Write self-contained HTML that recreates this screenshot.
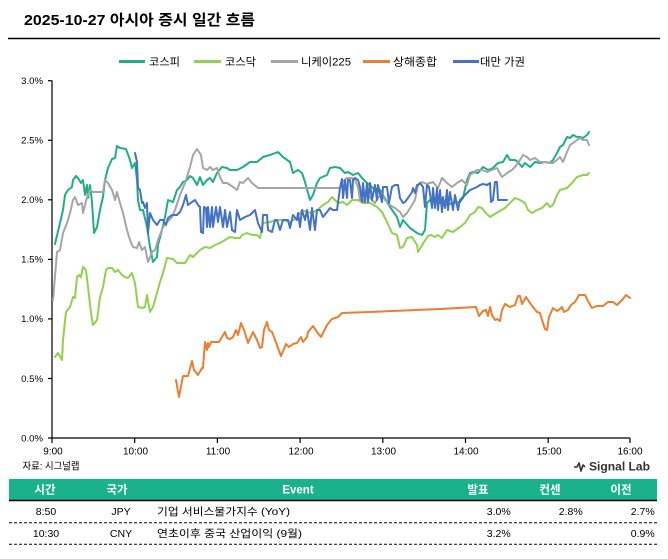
<!DOCTYPE html>
<html>
<head>
<meta charset="utf-8">
<style>
html,body{margin:0;padding:0;background:#fff;}
svg{display:block;}
text{font-family:"Liberation Sans","Noto Sans CJK KR",sans-serif;}
</style>
</head>
<body>
<svg width="668" height="559" viewBox="0 0 668 559" xmlns="http://www.w3.org/2000/svg">
<rect width="668" height="559" fill="#fff"/>
<!-- Title -->
<text x="24" y="25" font-size="15" font-weight="bold" fill="#000" textLength="231" lengthAdjust="spacingAndGlyphs">2025-10-27 아시아 증시 일간 흐름</text>
<line x1="8" y1="38.5" x2="660" y2="38.5" stroke="#000" stroke-width="1.5"/>

<!-- Legend -->
<g font-size="11" fill="#000">
<line x1="119" y1="61.5" x2="145" y2="61.5" stroke="#1fae87" stroke-width="3"/>
<text x="149" y="65.5" textLength="31" lengthAdjust="spacingAndGlyphs">코스피</text>
<line x1="194" y1="61.5" x2="221" y2="61.5" stroke="#92d050" stroke-width="3"/>
<text x="225" y="65.5" textLength="31" lengthAdjust="spacingAndGlyphs">코스닥</text>
<line x1="271" y1="61.5" x2="298" y2="61.5" stroke="#a5a5a5" stroke-width="3"/>
<text x="301" y="65.5" textLength="50" lengthAdjust="spacingAndGlyphs">니케이225</text>
<line x1="363" y1="61.5" x2="390" y2="61.5" stroke="#ed7d31" stroke-width="3"/>
<text x="393" y="65.5" textLength="44" lengthAdjust="spacingAndGlyphs">상해종합</text>
<line x1="453" y1="61.5" x2="479" y2="61.5" stroke="#4472c4" stroke-width="3"/>
<text x="480" y="65.5" textLength="45" lengthAdjust="spacingAndGlyphs">대만 가권</text>
</g>

<!-- Axes -->
<g stroke="#000" stroke-width="1.2">
<line x1="52" y1="80.5" x2="52" y2="438"/>
<line x1="52" y1="438" x2="630" y2="438"/>
<line x1="48" y1="80.7" x2="52" y2="80.7"/>
<line x1="48" y1="140.3" x2="52" y2="140.3"/>
<line x1="48" y1="199.8" x2="52" y2="199.8"/>
<line x1="48" y1="259.4" x2="52" y2="259.4"/>
<line x1="48" y1="318.9" x2="52" y2="318.9"/>
<line x1="48" y1="378.5" x2="52" y2="378.5"/>
<line x1="48" y1="438" x2="52" y2="438"/>
<line x1="52" y1="438" x2="52" y2="443"/>
<line x1="134.7" y1="438" x2="134.7" y2="443"/>
<line x1="217.4" y1="438" x2="217.4" y2="443"/>
<line x1="300.1" y1="438" x2="300.1" y2="443"/>
<line x1="382.8" y1="438" x2="382.8" y2="443"/>
<line x1="465.5" y1="438" x2="465.5" y2="443"/>
<line x1="548.2" y1="438" x2="548.2" y2="443"/>
<line x1="630" y1="438" x2="630" y2="443"/>
</g>
<g font-size="9.6" fill="#000" text-anchor="end">
<text x="43" y="84">3.0%</text>
<text x="43" y="143.6">2.5%</text>
<text x="43" y="203.1">2.0%</text>
<text x="43" y="262.7">1.5%</text>
<text x="43" y="322.2">1.0%</text>
<text x="43" y="381.8">0.5%</text>
<text x="43" y="441.3">0.0%</text>
</g>
<g font-size="10" fill="#000" text-anchor="middle">
<text x="53" y="454.5">9:00</text>
<text x="135.5" y="454.5">10:00</text>
<text x="218" y="454.5">11:00</text>
<text x="301" y="454.5">12:00</text>
<text x="383.5" y="454.5">13:00</text>
<text x="466" y="454.5">14:00</text>
<text x="549" y="454.5">15:00</text>
<text x="630" y="454.5">16:00</text>
</g>

<!-- Series -->
<g fill="none" stroke-width="2" stroke-linejoin="round" stroke-linecap="round">
<polyline stroke="#1fae87" points="55,244 60,223 63,210 65,195 68,190 72,187 73,180 76,176 78,178 81,183 83,180 85,195 87,185 88,198 90,185 92,202 94,233 97,227 100,210 103,197 105,180 108,168 112,159 115,158 117,146 120,148 126,149 130,160 132,168 135,163 137,180 138,200 140,210 143,210 147,227 150,247 153,262 157,257 158,245 162,230 165,217 168,200 173,202 177,190 180,187 183,182 187,180 190,176 193,178 197,185 200,177 203,185 207,180 210,178 213,182 217,173 222,167 227,168 230,170 237,170 243,167 250,162 257,162 263,157 270,155 278,152 283,157 290,162 293,173 298,170 302,173 305,182 310,200 313,195 317,183 320,178 327,175 330,168 335,167 340,168 345,173 348,172 353,175 358,173 362,178 367,183 373,188 380,190 383,195 390,207 397,217 400,227 403,220 410,228 417,233 422,235 425,230 427,203 430,200 433,202 440,203 447,205 453,203 460,202 463,198 467,180 470,173 473,172 478,173 483,167 488,170 493,168 498,163 503,162 507,155 510,160 515,160 518,162 522,167 525,163 530,167 535,162 540,163 545,162 550,163 553,160 557,153 560,147 563,145 567,137 570,138 573,135 577,137 580,137 583,138 587,135 589,132"/>
<polyline stroke="#92d050" points="55,357 58,353 62,360 63,340 66,312 70,307 73,297 75,298 77,277 79,275 81,277 83,267 86,270 88,287 91,313 93,325 97,320 100,297 103,287 106,270 108,268 112,268 115,272 118,270 122,275 125,277 128,278 132,273 135,283 138,307 142,308 145,307 147,295 150,312 153,307 157,293 160,282 163,273 167,258 173,259 177,263 182,263 185,263 190,255 193,257 197,253 200,250 205,247 210,248 215,245 220,243 225,240 230,237 235,238 240,238 242,235 247,233 252,235 257,235 260,238 263,223 270,222 277,220 283,220 290,222 297,218 302,210 307,212 312,213 317,210 323,205 328,202 332,197 335,200 338,203 343,202 347,205 352,200 358,200 363,203 370,203 377,207 382,212 387,222 392,233 397,235 400,248 403,247 407,238 412,237 417,245 418,252 421,247 424,242 428,236 431,235 435,237 438,235 442,238 447,230 453,232 460,227 465,223 470,215 475,212 478,207 482,208 485,212 490,217 493,215 498,212 505,208 510,203 515,198 520,200 525,203 528,210 532,213 537,210 542,208 547,203 550,207 553,205 557,195 560,190 567,188 572,183 577,177 583,175 587,175 589,173"/>
<polyline stroke="#a5a5a5" points="53,300 57,252 60,250 63,233 67,223 70,213 73,200 75,197 78,205 82,203 83,213 87,197 90,190 93,192 97,192 103,192 105,180 108,183 112,190 115,200 117,192 120,203 123,213 127,230 130,240 133,247 137,248 139,242 142,250 145,247 148,262 152,252 155,250 158,240 163,227 167,222 172,217 175,210 180,195 185,183 190,167 193,155 197,149 201,155 203,168 207,170 210,167 213,170 217,168 220,177 223,183 227,183 230,185 233,187 237,190 240,182 243,183 248,178 252,183 258,188 340,188 342,182 347,178 352,178 355,180 358,187 360,200 363,202 367,193 372,200 375,203 378,198 382,193 385,200 390,205 395,208 400,212 403,217 407,213 412,205 415,200 418,185 422,182 427,184 433,182 438,188 442,178 447,183 452,187 457,183 462,180 467,185 470,175 477,170 482,170 487,172 492,170 497,168 502,177 507,173 512,170 515,167 520,160 523,155 527,157 530,160 535,158 540,162 545,162 550,163 553,163 557,160 560,157 563,162 567,152 570,145 573,143 577,140 580,138 583,140 587,140 589,145"/>
<polyline stroke="#ed7d31" points="176,380 179,397 183,376 188,376 192,361 194,370 198,375 202,368 203,368 205,342 207,350 208,343 209,347 211,342 219,342 225,332 227,338 230,339 233,337 236,330 238,335 241,323 244,330 248,343 253,332 257,340 260,348 262,347 264,330 267,322 269,330 272,332 274,337 278,348 281,356 286,344 289,347 293,344 297,343 301,337 303,342 307,337 308,332 313,326 317,332 321,337 327,325 332,319 338,317 342,313 370,312 440,309 476,307 479,316 483,311 486,310 488,316 490,307 492,315 495,320 497,319 500,321 502,310 505,304 510,307 515,305 518,296 520,296 522,304 526,297 530,303 533,307 537,312 540,313 543,323 545,329 547,330 549,317 553,308 557,311 560,309 562,307 564,312 568,310 571,305 575,302 579,295 585,295 588,301 592,308 597,306 603,306 608,302 613,302 617,305 620,302 623,299 626,295 630,298"/>
<polyline stroke="#4472c4" points="135,153 137,162 138,188 140,190 142,203 143,202 145,208 147,203 148,233 150,213 153,220 157,225 160,220 163,220 166,225 168,218 172,215 177,215 180,212 183,205 186,195 188,205 192,202 195,200 198,205 200,207 201,232 203,233 204,207 206,208 207,227 208,207 210,227 212,207 213,227 216,207 218,222 220,207 223,227 225,210 227,227 230,212 232,230 235,232 237,210 240,220 245,217 250,215 255,210 258,223 262,232 263,215 267,215 268,230 272,232 275,220 277,220 280,230 283,220 288,220 290,228 293,215 297,220 298,213 300,227 302,210 305,220 307,210 310,230 312,208 315,230 317,210 320,210 323,217 327,212 330,208 333,210 337,210 340,188 342,179 343,198 345,180 347,198 348,180 350,180 352,198 353,180 355,178 358,180 360,187 362,202 363,183 365,202 367,183 368,202 370,183 372,200 375,185 377,200 378,185 382,202 383,187 387,187 389,203 392,187 395,185 398,185 400,198 403,203 405,202 408,198 412,192 413,188 415,193 417,185 418,185 420,183 423,187 425,207 427,185 429,187 432,208 433,188 435,208 437,188 438,210 440,190 442,212 443,197 445,208 447,190 448,210 450,192 453,210 455,195 458,210 460,200 463,197 470,190 477,187 480,185 483,184 487,185 490,183 491,202 493,200 495,182 497,182 498,200 502,200 507,200"/>
</g>

<!-- Source & logo -->
<text x="22.5" y="469.5" font-size="10" fill="#000" textLength="57" lengthAdjust="spacingAndGlyphs">자료: 시그널랩</text>
<polyline points="574,467 577,467 579,463 581,471 583,465 585,467" fill="none" stroke="#333" stroke-width="1.6" stroke-linejoin="round"/>
<text x="589" y="470.5" font-size="11.5" font-weight="bold" fill="#333" textLength="61" lengthAdjust="spacingAndGlyphs">Signal Lab</text>

<!-- Table -->
<rect x="9" y="479" width="648" height="21" fill="#19b28b"/>
<line x1="9" y1="500.5" x2="657" y2="500.5" stroke="#000" stroke-width="1.5"/>
<g font-size="11.5" font-weight="bold" fill="#fff" text-anchor="middle">
<text x="45" y="493.5">시간</text>
<text x="117" y="493.5">국가</text>
<text x="298" y="493.5">Event</text>
<text x="478" y="493.5">발표</text>
<text x="550" y="493.5">컨센</text>
<text x="621" y="493.5">이전</text>
</g>
<g font-size="10.5" fill="#000">
<text x="46" y="515" text-anchor="middle">8:50</text>
<text x="121" y="515" text-anchor="middle">JPY</text>
<text x="157" y="515" textLength="133" lengthAdjust="spacingAndGlyphs">기업 서비스물가지수 (YoY)</text>
<text x="510.7" y="515" text-anchor="end">3.0%</text>
<text x="582.7" y="515" text-anchor="end">2.8%</text>
<text x="654.7" y="515" text-anchor="end">2.7%</text>
<text x="46" y="537" text-anchor="middle">10:30</text>
<text x="121" y="537" text-anchor="middle">CNY</text>
<text x="157" y="537" textLength="145" lengthAdjust="spacingAndGlyphs">연초이후 중국 산업이익 (9월)</text>
<text x="510.7" y="537" text-anchor="end">3.2%</text>
<text x="654.7" y="537" text-anchor="end">0.9%</text>
</g>
<line x1="9" y1="522.7" x2="657" y2="522.7" stroke="#000" stroke-width="1" stroke-dasharray="3,2"/>
<line x1="9" y1="544.3" x2="657" y2="544.3" stroke="#000" stroke-width="1" stroke-dasharray="3,2"/>
</svg>
</body>
</html>
